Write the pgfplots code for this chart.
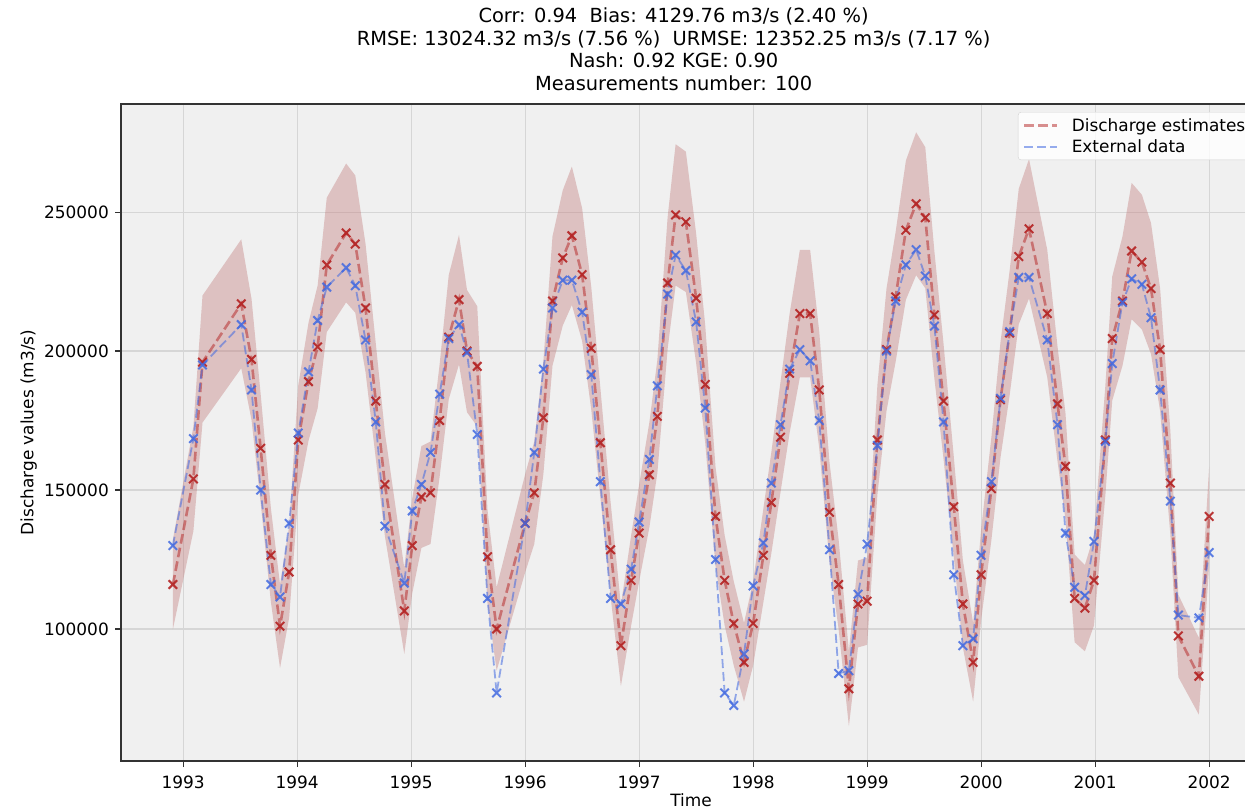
\documentclass[border=0pt]{standalone}
\usepackage{fontspec}
\setmainfont{DejaVu Sans}
\usepackage{pgfplots}
\usepackage{pgfplotstable}
\pgfplotsset{compat=1.18}
\usepgfplotslibrary{fillbetween}
\definecolor{bgg}{RGB}{240,240,240}
\definecolor{gridc}{RGB}{214,214,214}
\definecolor{redm}{RGB}{180,34,34}
\definecolor{bluem}{RGB}{65,105,225}
\definecolor{bandc}{RGB}{196,128,128}

\pgfplotstableread{
t r b lo hi
1992.91 116000 130000 99880 132120
1993.09 154000 168500 135220 172780
1993.17 196000 195000 174280 220000
1993.51 217000 209500 193810 240190
1993.60 197000 186000 175210 218790
1993.68 165000 150000 145450 184550
1993.77 126500 116000 109645 143355
1993.85 101000 111500 85930 116070
1993.93 120500 138000 104065 136935
1994.01 168000 170500 148240 187760
1994.10 189000 192500 167770 210230
1994.18 201500 211000 179395 223605
1994.26 231000 223000 206830 255170
1994.43 242500 230000 217525 267475
1994.51 238500 223500 213805 263195
1994.60 215500 204000 192415 238585
1994.69 182000 174500 161260 202740
1994.77 152000 137000 133360 170640
1994.94 106500 116500 91045 121955
1995.01 130000 142500 112900 147100
1995.09 147500 152000 129175 165825
1995.17 149000 163500 130570 167430
1995.25 175000 184500 154750 195250
1995.33 205000 204500 182650 227350
1995.42 218500 209500 195205 241795
1995.49 200000 199500 178000 222000
1995.58 194500 170000 172885 216115
1995.67 126000 111000 109180 142820
1995.75 100000 77000 85000 115000
1996.00 138000 138000 120340 155660
1996.08 149000 163500 130570 167430
1996.16 176000 193500 155680 196320
1996.24 218000 215500 194740 241260
1996.33 233500 225500 209155 257845
1996.41 241500 225500 216595 266405
1996.50 227500 214000 203575 251425
1996.58 201000 191500 178930 223070
1996.66 167000 153000 147310 186690
1996.75 128500 111000 111505 145495
1996.84 94000 109000 79420 108580
1996.93 117500 121500 101275 133725
1997.00 134500 138500 117085 151915
1997.09 155500 161000 136615 174385
1997.16 176500 187500 156145 196855
1997.25 224500 220500 200785 248215
1997.32 249000 234500 223570 274430
1997.41 246500 229000 221245 271755
1997.50 219000 210500 195670 242330
1997.58 188000 179500 166840 209160
1997.67 140500 125000 122665 158335
1997.75 117500 77000 101275 133725
1997.83 102000 72500 86860 117140
1997.92 88000 91000 73840 102160
1998.00 102000 115500 86860 117140
1998.09 126500 131000 109645 143355
1998.16 145500 152500 127315 163685
1998.24 169000 173500 149170 188830
1998.32 192000 193500 170560 213440
1998.41 213500 200500 190555 236445
1998.50 213500 196500 190555 236445
1998.58 186000 175000 164980 207020
1998.67 142000 128500 124060 159940
1998.75 116000 84000 99880 132120
1998.84 78500 85000 65005 91995
1998.92 109000 112500 93370 124630
1999.00 110000 130500 94300 125700
1999.09 168000 166000 148240 187760
1999.17 200500 200000 178465 222535
1999.25 219500 218000 196135 242865
1999.34 243500 231000 218455 268545
1999.43 253000 236500 227290 278710
1999.51 248000 227000 222640 273360
1999.59 213000 209000 190090 235910
1999.67 182000 174500 161260 202740
1999.76 144000 119500 125920 162080
1999.84 109000 94000 93370 124630
1999.93 88000 96500 73840 102160
2000.00 119500 126500 103135 135865
2000.09 150500 153000 131965 169035
2000.17 182500 183000 161725 203275
2000.25 206500 207000 184045 228955
2000.33 234000 226500 209620 258380
2000.42 244000 226500 218920 269080
2000.58 213500 204000 190555 236445
2000.67 181000 173500 160330 201670
2000.74 158500 134500 139405 177595
2000.82 111000 115000 95230 126770
2000.91 107500 112000 91975 123025
2000.99 117500 131500 101275 133725
2001.09 168000 167500 148240 187760
2001.15 204500 195500 182185 226815
2001.24 218000 217500 194740 241260
2001.32 236000 226000 211480 260520
2001.41 232000 224000 207760 256240
2001.49 222500 212000 198925 246075
2001.57 200500 186000 178465 222535
2001.66 152500 146000 133825 171175
2001.73 97500 105000 82675 112325
2001.91 83000 104000 69190 96810
2002.00 140500 127500 122665 158335
}\data

\begin{document}
\begin{tikzpicture}
\begin{axis}[
  at={(0,0)}, anchor=south west,
  scale only axis, width=1140bp, height=657bp,
  xmin=1992.455, xmax=2002.455, ymin=52500, ymax=288900,
  xtick={1993,1994,1995,1996,1997,1998,1999,2000,2001,2002},
  ytick={100000,150000,200000,250000},
  scaled y ticks=false,
  xticklabel style={/pgf/number format/1000 sep={}, anchor=north, inner sep=0pt, yshift=-9bp},
  yticklabel style={/pgf/number format/fixed,/pgf/number format/1000 sep={}, anchor=east, inner sep=0pt, xshift=-6bp},
  every tick label/.append style={/pgf/number format/assume math mode=true, font=\fontsize{17}{20}\selectfont},
  xtick pos=lower, ytick pos=left,
  tick align=outside, major tick length=6bp,
  tick style={black!80, line width=1.2bp},
  axis line style={black!80, line width=1.3bp},
  grid=major, major grid style={gridc, line width=1.2bp},
  axis background/.style={fill=bgg},
  xlabel={Time}, ylabel={Discharge values (m3/s)},
  label style={font=\fontsize{17}{20}\selectfont},
  xlabel style={at={(axis description cs:0.5,-0.060)}, anchor=center},
  ylabel style={at={(axis description cs:-0.081,0.5)}, anchor=center},
  title={Corr: 0.94\ \ Bias: 4129.76 m3/s (2.40 \%)\\RMSE: 13024.32 m3/s (7.56 \%)\ \ URMSE: 12352.25 m3/s (7.17 \%)\\Nash: 0.92 KGE: 0.90\\Measurements number: 100},
  title style={align=center, font=\fontsize{19.5}{22.7}\selectfont, at={(axis description cs:0.4848,1)}, anchor=south, inner sep=0pt, yshift=7bp},
  legend style={at={(axis description cs:0.7868,0.9878)}, anchor=north west, font=\fontsize{17}{20}\selectfont, draw=black!18, fill=white, fill opacity=0.8, text opacity=1, rounded corners=3bp, inner xsep=5bp, inner ysep=4bp, row sep=3bp},
  legend cell align=left,
  legend image code/.code={\draw[#1] (0bp,0bp) -- (33bp,0bp); \path (44bp,0bp);},
]
\addplot[name path=hi, draw=none, forget plot] table[x=t,y=hi]{\data};
\addplot[name path=lo, draw=none, forget plot] table[x=t,y=lo]{\data};
\addplot[bandc, fill opacity=0.42, draw=none, forget plot] fill between[of=hi and lo];
\addplot[redm, opacity=0.5, line width=2.6bp, dash pattern=on 9.7bp off 4.2bp, no marks] table[x=t,y=r]{\data};
\addlegendentry{Discharge estimates}
\addplot[bluem, opacity=0.55, line width=1.8bp, dash pattern=on 9bp off 4bp, no marks] table[x=t,y=b]{\data};
\addlegendentry{External data}
\addplot[only marks, mark=x, mark size=6bp, redm, line width=2bp, opacity=0.9, forget plot] table[x=t,y=r]{\data};
\addplot[only marks, mark=x, mark size=6bp, bluem, line width=2bp, opacity=0.85, forget plot] table[x=t,y=b]{\data};
\end{axis}
\pgfresetboundingbox
\path[use as bounding box] (-121bp,-51bp) rectangle (1124bp,761bp);
\end{tikzpicture}
\end{document}
